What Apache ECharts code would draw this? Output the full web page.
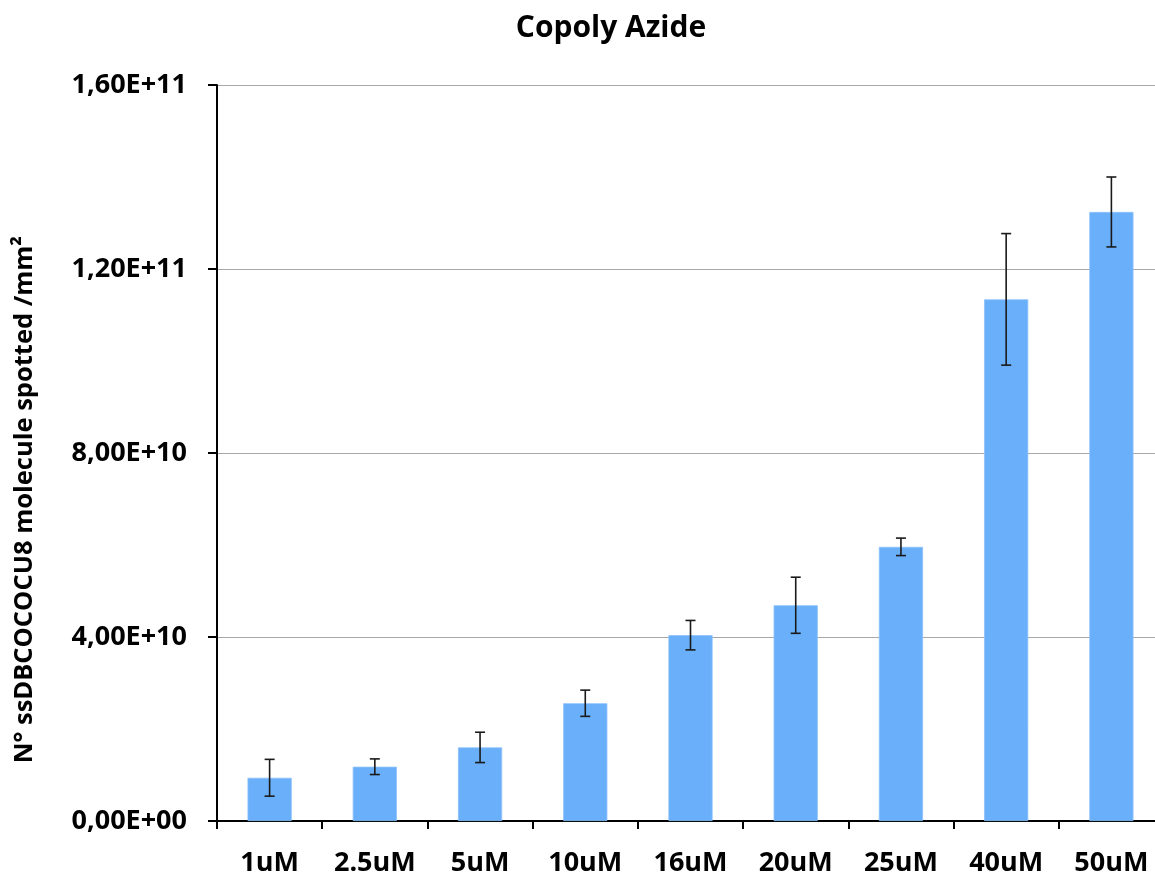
<!DOCTYPE html>
<html>
<head>
<meta charset="utf-8">
<script src="https://cdn.jsdelivr.net/npm/echarts@6/dist/echarts.min.js"></script>
<style>
  html, body { margin: 0; padding: 0; background: #fff; }
  #chart { width: 1155px; height: 875px; }
</style>
</head>
<body>
<div id="chart"></div>
<script>
// Concentrations of the spotted probe
const categories = ['1uM', '2.5uM', '5uM', '10uM', '16uM', '20uM', '25uM', '40uM', '50uM'];
// Mean molecules spotted per mm²
const means = [9.4e9, 1.18e10, 1.6e10, 2.56e10, 4.04e10, 4.69e10, 5.96e10, 1.134e11, 1.324e11];
// Standard deviation (symmetric error)
const errors = [4.0e9, 1.7e9, 3.3e9, 2.85e9, 3.2e9, 6.1e9, 1.9e9, 1.43e10, 7.6e9];
// Value axis ticks
const yTicks = [0, 4e10, 8e10, 1.2e11, 1.6e11];
const yTitle = 'N° ssDBCOCOCU8 molecule spotted /mm²';

const FONT = '"Open Sans", "Liberation Sans", sans-serif';

function sci(v) {
  if (v === 0) return '0,00E+00';
  const e = Math.floor(Math.log10(Math.abs(v)) + 1e-9);
  const m = v / Math.pow(10, e);
  return m.toFixed(2).replace('.', ',') + 'E' + (e >= 0 ? '+' : '-') + String(Math.abs(e)).padStart(2, '0');
}

const errData = categories.map((c, i) => [i, means[i] - errors[i], means[i] + errors[i]]);

const chart = echarts.init(document.getElementById('chart'), null, { renderer: 'canvas' });
chart.setOption({
  animation: false,
  backgroundColor: '#ffffff',
  title: {
    text: 'Copoly Azide',
    left: 606, top: 8, textAlign: 'center',
    textStyle: { fontFamily: FONT, fontWeight: 'bold', fontSize: 30, color: '#000' }
  },
  graphic: [{
    type: 'text',
    left: 12, top: 236,
    rotation: Math.PI / 2,
    style: {
      text: yTitle,
      fontFamily: FONT, fontWeight: 'bold', fontSize: 25.5, fill: '#000'
    }
  }],
  grid: { left: 217, top: 85, width: 947, height: 736, containLabel: false, outerBoundsMode: 'none' },
  xAxis: {
    type: 'category',
    data: categories,
    axisLine: { lineStyle: { color: '#000', width: 2 } },
    axisTick: { show: true, interval: 0, length: 8, lineStyle: { color: '#000', width: 2 } },
    axisLabel: { interval: 0, hideOverlap: false, fontFamily: FONT, fontWeight: 'bold', fontSize: 27, color: '#000', margin: 29 }
  },
  yAxis: {
    type: 'value',
    min: yTicks[0], max: yTicks[yTicks.length - 1], interval: yTicks[1] - yTicks[0],
    axisLine: { show: true, lineStyle: { color: '#000', width: 2 } },
    axisTick: { show: true, length: 9, inside: false, lineStyle: { color: '#000', width: 2 } },
    axisLabel: { fontFamily: FONT, fontWeight: 'bold', fontSize: 27, color: '#000', margin: 30, formatter: sci },
    splitLine: { show: true, lineStyle: { color: '#a8a8a8', width: 1.2 } }
  },
  series: [
    {
      type: 'bar',
      data: means,
      barWidth: '42%',
      itemStyle: { color: '#6aaff9', borderColor: '#8cc2fb', borderWidth: 0.8 },
      z: 2
    },
    {
      type: 'custom',
      data: errData,
      z: 5,
      renderItem: function (params, api) {
        const x = api.value(0);
        const lo = api.coord([x, api.value(1)]);
        const hi = api.coord([x, api.value(2)]);
        const cap = 5;
        const style = { stroke: '#1a1a1a', lineWidth: 1.6, fill: null };
        return {
          type: 'group',
          children: [
            { type: 'line', shape: { x1: lo[0], y1: lo[1], x2: hi[0], y2: hi[1] }, style },
            { type: 'line', shape: { x1: hi[0] - cap, y1: hi[1], x2: hi[0] + cap, y2: hi[1] }, style },
            { type: 'line', shape: { x1: lo[0] - cap, y1: lo[1], x2: lo[0] + cap, y2: lo[1] }, style }
          ]
        };
      }
    }
  ]
});
</script>
</body>
</html>
